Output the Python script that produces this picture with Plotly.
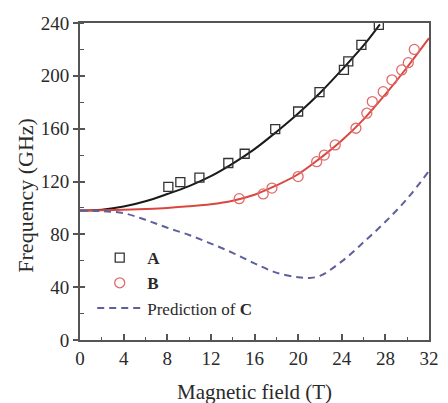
import plotly.graph_objects as go

# Measured resonance frequencies (GHz) vs magnetic field (T)
a_field = [8.1, 9.2, 10.95, 13.6, 15.1, 17.9, 20.0, 21.96, 24.2, 24.6, 25.8, 27.4]
a_freq = [116, 119.5, 123, 134, 141, 159.6, 173, 187.6, 204.5, 211, 223.5, 238.6]

b_field = [14.6, 16.8, 17.6, 20.0, 21.7, 22.4, 23.4, 25.3, 26.3, 26.8, 27.8, 28.6, 29.5, 30.1, 30.65]
b_freq = [107, 110.6, 115, 123.7, 135, 140, 147.7, 160.3, 171.7, 180.5, 188, 197, 204.5, 210, 220]

# Fitted curves for A and B
a_fit_field = [0, 2, 4, 6, 8, 10, 12, 14, 16, 18, 20, 22, 24, 26, 27.5]
a_fit_freq = [98, 98.7, 101, 105, 110.5, 116.5, 124, 133.5, 144.5, 157.5, 171.5, 187, 204.5, 223, 239]

b_fit_field = [0, 2, 4, 6, 8, 10, 12, 14, 16, 18, 20, 22, 24, 26, 28, 30, 32]
b_fit_freq = [98, 98.2, 98.6, 99.2, 100, 101.2, 102.8, 105.5, 110, 117, 125.5, 137.5, 151, 167, 186, 206.5, 228.5]

# Predicted branch C
c_field = [0, 2, 4, 6, 8, 10, 12, 14, 16, 18, 20, 21, 22, 24, 26, 28, 30, 32]
c_freq = [98, 97.5, 96, 91, 85, 79.5, 73, 66, 58, 51, 47.5, 47, 48.5, 59.5, 74, 89.5, 107, 128]

x_ticks = [0, 4, 8, 12, 16, 20, 24, 28, 32]
y_ticks = [0, 40, 80, 120, 160, 200, 240]

FONT = "Liberation Serif"
TXT = "#2a2a2a"
AX = "#555555"

fig = go.Figure()

fig.add_trace(go.Scatter(x=a_fit_field, y=a_fit_freq, mode="lines", line=dict(color="#1a1a1a", width=2, shape="spline"),
                         showlegend=False, hoverinfo="skip"))
fig.add_trace(go.Scatter(x=b_fit_field, y=b_fit_freq, mode="lines", line=dict(color="#d9473f", width=2, shape="spline"),
                         showlegend=False, hoverinfo="skip"))

fig.add_trace(go.Scatter(x=a_field, y=a_freq, mode="markers", name="<b>A</b>",
                         marker=dict(symbol="square-open", size=9, color="#333333", line=dict(width=1.3, color="#333333"))))
fig.add_trace(go.Scatter(x=b_field, y=b_freq, mode="markers", name="<b>B</b>",
                         marker=dict(symbol="circle-open", size=10, color="#e06b6b", line=dict(width=1.3, color="#e06b6b"))))
fig.add_trace(go.Scatter(x=c_field, y=c_freq, mode="lines", name="Prediction of <b>C</b>",
                         line=dict(color="#5f5f9c", width=2, dash="7px,5px", shape="spline")))

# Overlay axis carrying the inward half of the crossing y ticks
fig.add_trace(go.Scatter(x=[0], y=[0], yaxis="y2", mode="markers", marker=dict(opacity=0),
                         showlegend=False, hoverinfo="skip"))

fig.update_layout(
    width=448, height=403,
    margin=dict(l=80, r=9, t=23, b=63),
    paper_bgcolor="white", plot_bgcolor="white",
    font=dict(family=FONT, color=TXT, size=19),
    showlegend=True,
    legend=dict(x=0.035, y=0.315, xanchor="left", yanchor="top", bgcolor="rgba(0,0,0,0)",
                font=dict(family=FONT, size=17, color=TXT), itemwidth=45, tracegroupgap=0),
    xaxis=dict(range=[0, 32], tickvals=x_ticks, ticktext=[str(v) for v in x_ticks],
               showgrid=False, zeroline=False, showline=True, linecolor=AX, linewidth=2, mirror=True,
               ticks="inside", ticklen=6, tickwidth=1.5, tickcolor=AX,
               minor=dict(dtick=2, ticks="inside", ticklen=3, tickwidth=1.2, tickcolor=AX),
               tickfont=dict(family=FONT, size=19, color=TXT)),
    yaxis=dict(range=[0, 240], tickvals=y_ticks, ticktext=[str(v) for v in y_ticks],
               showgrid=False, zeroline=False, showline=True, linecolor=AX, linewidth=2, mirror=True,
               ticks="outside", ticklen=5, tickwidth=1.5, tickcolor=AX,
               minor=dict(dtick=20, ticks="inside", ticklen=4, tickwidth=1.2, tickcolor=AX),
               tickfont=dict(family=FONT, size=19, color=TXT)),
    yaxis2=dict(overlaying="y", matches="y", side="left", showticklabels=False, showgrid=False,
                zeroline=False, showline=False, tickvals=y_ticks, ticks="inside", ticklen=5,
                tickwidth=1.5, tickcolor=AX),
    annotations=[
        dict(text="Magnetic field (T)", xref="paper", yref="paper", x=0.5, y=-0.164,
             xanchor="center", yanchor="middle", showarrow=False, font=dict(family=FONT, size=21, color=TXT)),
        dict(text="Frequency (GHz)", xref="paper", yref="paper", x=-0.156, y=0.457, textangle=-90,
             xanchor="center", yanchor="middle", showarrow=False, font=dict(family=FONT, size=22, color=TXT)),
    ],
)

fig.write_html("out.html")
